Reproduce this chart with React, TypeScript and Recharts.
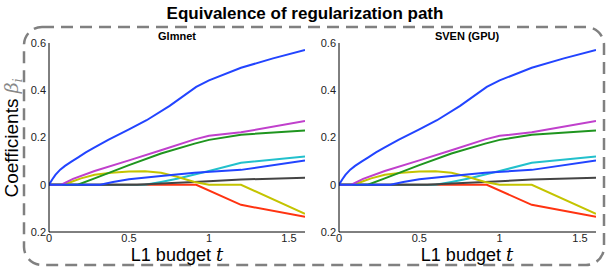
import React from "react";
import { LineChart, Line, XAxis, YAxis } from "recharts";

// ---- data ----
type P = { t: number; v: number };
const mk = (ts: number[], vs: number[]): P[] => ts.map((t, i) => ({ t, v: vs[i] }));

const blueA_t = [0, 0.02, 0.04, 0.07, 0.1, 0.14, 0.18, 0.23, 0.285, 0.37, 0.5, 0.61, 0.754, 0.92, 1.0, 1.2, 1.4, 1.6];
const blueA_v = [0, 0.022, 0.042, 0.064, 0.08, 0.098, 0.115, 0.137, 0.158, 0.19, 0.234, 0.273, 0.334, 0.414, 0.442, 0.495, 0.535, 0.57];

const magenta_t = [0, 0.077, 0.15, 0.285, 0.5, 0.7, 0.91, 1.0, 1.2, 1.6];
const magenta_v = [0, 0, 0.025, 0.058, 0.103, 0.146, 0.192, 0.207, 0.222, 0.27];

const green_t = [0, 0.18, 0.285, 0.5, 0.7, 0.91, 1.0, 1.2, 1.6];
const green_v = [0, 0, 0.027, 0.083, 0.132, 0.174, 0.19, 0.212, 0.23];

const yellow_t = [0, 0.09, 0.15, 0.2, 0.285, 0.39, 0.5, 0.6, 0.7, 0.8, 0.91, 1.0, 1.2, 1.6];
const yellow_v = [0, 0, 0.015, 0.027, 0.042, 0.051, 0.056, 0.057, 0.051, 0.034, 0.012, 0, 0, -0.123];

const blueB_t = [0, 0.32, 0.4, 0.5, 0.7, 0.91, 1.2, 1.6];
const blueB_v = [0, 0, 0.012, 0.023, 0.037, 0.051, 0.063, 0.103];

const cyan_t = [0, 0.6, 0.7, 0.8, 0.91, 1.0, 1.2, 1.6];
const cyan_v = [0, 0, 0.012, 0.025, 0.043, 0.058, 0.093, 0.12];

const gray_t = [0, 0.55, 0.7, 0.91, 1.2, 1.6];
const gray_v = [0, 0, 0.005, 0.012, 0.022, 0.03];

const red_t = [0, 0.92, 1.2, 1.6];
const red_v = [0, 0, -0.085, -0.136];

const xTicks = [0, 0.5, 1, 1.5];
const xTickLabels = ["0", "0.5", "1", "1.5"];
const yTicks = [-0.2, 0, 0.2, 0.4, 0.6];
const yTickLabels = ["0.2", "0", "0.2", "0.4", "0.6"];

const panelTitles = ["Glmnet", "SVEN (GPU)"];

const series = [
  { name: "red", data: mk(red_t, red_v), color: "#ff3311" },
  { name: "cyan", data: mk(cyan_t, cyan_v), color: "#22c0cc" },
  { name: "gray", data: mk(gray_t, gray_v), color: "#444444" },
  { name: "yellow", data: mk(yellow_t, yellow_v), color: "#c4c400" },
  { name: "green", data: mk(green_t, green_v), color: "#1f951f" },
  { name: "magenta", data: mk(magenta_t, magenta_v), color: "#c040cc" },
  { name: "blueA", data: mk(blueA_t, blueA_v), color: "#2244ff" },
  { name: "blueB", data: mk(blueB_t, blueB_v), color: "#2244ff" },
];

const FONT = "'Liberation Sans', Arial, Helvetica, sans-serif";

function Panel({ left, width, marginRight }: { left: number; width: number; marginRight: number }) {
  const tickStyle = { fontSize: 11, fill: "#222", fontFamily: FONT };
  return (
    <div style={{ position: "absolute", left, top: 0 }}>
      <LineChart width={width} height={270} margin={{ top: 43, left: 19, right: marginRight, bottom: 18 }}>
        <XAxis
          xAxisId="b"
          type="number"
          dataKey="t"
          domain={[0, 1.6]}
          ticks={xTicks}
          tickFormatter={(v: number) => xTickLabels[xTicks.indexOf(v)] ?? String(v)}
          allowDataOverflow
          height={20}
          tickLine={false}
          tickSize={0}
          tickMargin={2}
          axisLine={{ stroke: "#000", strokeWidth: 1 }}
          tick={tickStyle}
          interval={0}
        />
        <XAxis
          xAxisId="top"
          orientation="top"
          type="number"
          domain={[0, 1.6]}
          height={0}
          tick={false}
          tickLine={false}
          axisLine={{ stroke: "#000", strokeWidth: 1 }}
        />
        <YAxis
          yAxisId="l"
          type="number"
          domain={[-0.2, 0.6]}
          ticks={yTicks}
          tickFormatter={(v: number) => {
            const i = yTicks.findIndex((y) => Math.abs(y - v) < 1e-9);
            return i >= 0 ? yTickLabels[i] : String(v);
          }}
          allowDataOverflow
          width={30}
          tickLine={false}
          tickSize={0}
          tickMargin={3}
          axisLine={{ stroke: "#000", strokeWidth: 1 }}
          tick={tickStyle}
          interval={0}
        />
        <YAxis
          yAxisId="r"
          orientation="right"
          type="number"
          domain={[-0.2, 0.6]}
          width={0}
          tick={false}
          tickLine={false}
          axisLine={{ stroke: "#000", strokeWidth: 1 }}
        />
        {series.map((s) => (
          <Line
            key={s.name}
            xAxisId="b"
            yAxisId="l"
            data={s.data}
            dataKey="v"
            type="linear"
            stroke={s.color}
            strokeWidth={2}
            dot={false}
            activeDot={false}
            isAnimationActive={false}
          />
        ))}
      </LineChart>
    </div>
  );
}

export default function App() {
  return (
    <div style={{ position: "absolute", left: 0, top: 0, width: 609, height: 270, background: "#fff", overflow: "hidden" }}>
      <svg width={609} height={270} style={{ position: "absolute", left: 0, top: 0 }}>
        <rect x={24} y={27} width={580} height={238} rx={18} ry={18} fill="none" stroke="#808080" strokeWidth={2.5} strokeDasharray="12 7" />
      </svg>
      <Panel left={0} width={320} marginRight={15} />
      <Panel left={290} width={319} marginRight={13} />
      <svg width={609} height={270} style={{ position: "absolute", left: 0, top: 0, pointerEvents: "none" }}>
        <text x={305} y={19} textAnchor="middle" fontFamily={FONT} fontWeight="bold" fontSize={17} fill="#000">
          Equivalence of regularization path
        </text>
        <text x={177} y={40} textAnchor="middle" fontFamily={FONT} fontWeight="bold" fontSize={11} fill="#000">
          {panelTitles[0]}
        </text>
        <text x={467} y={40} textAnchor="middle" fontFamily={FONT} fontWeight="bold" fontSize={11} fill="#000">
          {panelTitles[1]}
        </text>
        <text x={177} y={261} textAnchor="middle" fontFamily={FONT} fontSize={18} fill="#000">
          L1 budget <tspan fontFamily="'DejaVu Serif', serif" fontStyle="italic">t</tspan>
        </text>
        <text x={467} y={261} textAnchor="middle" fontFamily={FONT} fontSize={18} fill="#000">
          L1 budget <tspan fontFamily="'DejaVu Serif', serif" fontStyle="italic">t</tspan>
        </text>
        <text
          transform="translate(18,138) rotate(-90)"
          textAnchor="middle"
          fontFamily={FONT}
          fontSize={19}
          fill="#000"
        >
          Coefficients{" "}
          <tspan fontFamily="'DejaVu Serif', serif" fontStyle="italic" fill="#888">β</tspan>
          <tspan fontFamily="'DejaVu Serif', serif" fontStyle="italic" fill="#888" fontSize={12} dy={4}>i</tspan>
        </text>
      </svg>
    </div>
  );
}
